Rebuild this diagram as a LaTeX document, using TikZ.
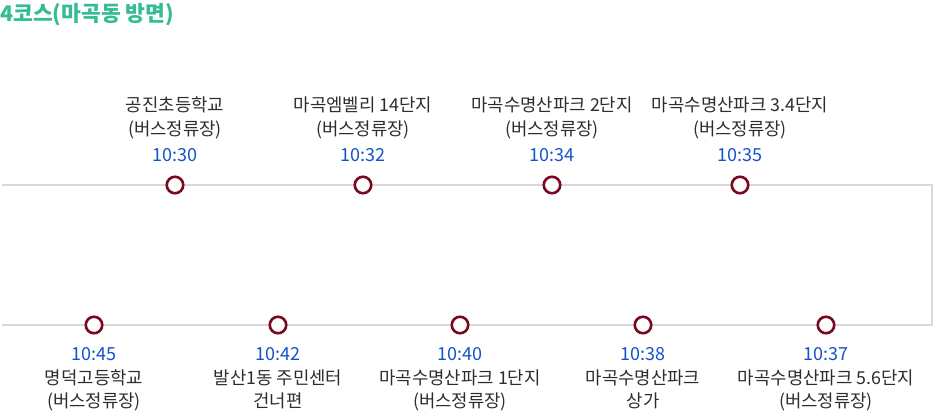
\documentclass[tikz,border=0pt]{standalone}
\usepackage{fontspec}
\setmainfont{Noto Sans CJK KR}
\definecolor{titlegreen}{RGB}{52,188,148}
\definecolor{stopred}{RGB}{122,8,32}
\definecolor{timeblue}{RGB}{20,82,204}
\definecolor{txtgray}{RGB}{45,45,45}
\definecolor{trackgray}{RGB}{216,216,216}
\tikzset{
  track/.style={draw=trackgray, line width=2pt},
  stopdot/.style={circle, draw=stopred, line width=2.6pt, fill=white, minimum size=16.5pt, inner sep=0pt},
  lbl/.style={anchor=base, inner sep=0pt, text=txtgray, font=\fontsize{17.8}{20}\selectfont},
  tme/.style={anchor=base, inner sep=0pt, text=timeblue, font=\fontsize{18}{20}\selectfont},
  ttl/.style={anchor=base west, inner sep=0pt, text=titlegreen, font=\bfseries\fontsize{21.5}{24}\selectfont}
}
\newcommand{\topstop}[5]{%
  \node[stopdot] (#1) at (#2,185) {};
  \node[lbl] (#1a) at (#2,111.5) {#3};
  \node[lbl] (#1b) at (#2,135.5) {#4};
  \node[tme] (#1t) at (#2,161) {#5};
}
\newcommand{\botstop}[5]{%
  \node[stopdot] (#1) at (#2,325) {};
  \node[tme] (#1t) at (#2,360.5) {#5};
  \node[lbl] (#1a) at (#2,384.5) {#3};
  \node[lbl] (#1b) at (#2,407.5) {#4};
}
\begin{document}
\begin{tikzpicture}[x=1pt,y=-1pt]
\useasboundingbox (0,0) rectangle (933,412);
\node[ttl] (title) at (0,22) {4코스(마곡동 방면)};
\coordinate (tstart) at (2,185);
\coordinate (tcorner) at (931.5,185);
\coordinate (bcorner) at (931.5,325);
\coordinate (bend) at (2,325);
\draw[track] (tstart) -- (tcorner) -- (bcorner) -- (bend);
\topstop{s1}{175}{공진초등학교}{(버스정류장)}{10:30}
\topstop{s2}{363}{마곡엠벨리 14단지}{(버스정류장)}{10:32}
\topstop{s3}{552}{마곡수명산파크 2단지}{(버스정류장)}{10:34}
\topstop{s4}{740}{마곡수명산파크 3.4단지}{(버스정류장)}{10:35}
\botstop{s5}{826}{마곡수명산파크 5.6단지}{(버스정류장)}{10:37}
\botstop{s6}{643}{마곡수명산파크}{상가}{10:38}
\botstop{s7}{460}{마곡수명산파크 1단지}{(버스정류장)}{10:40}
\botstop{s8}{278}{발산1동 주민센터}{건너편}{10:42}
\botstop{s9}{94}{명덕고등학교}{(버스정류장)}{10:45}
\end{tikzpicture}
\end{document}
